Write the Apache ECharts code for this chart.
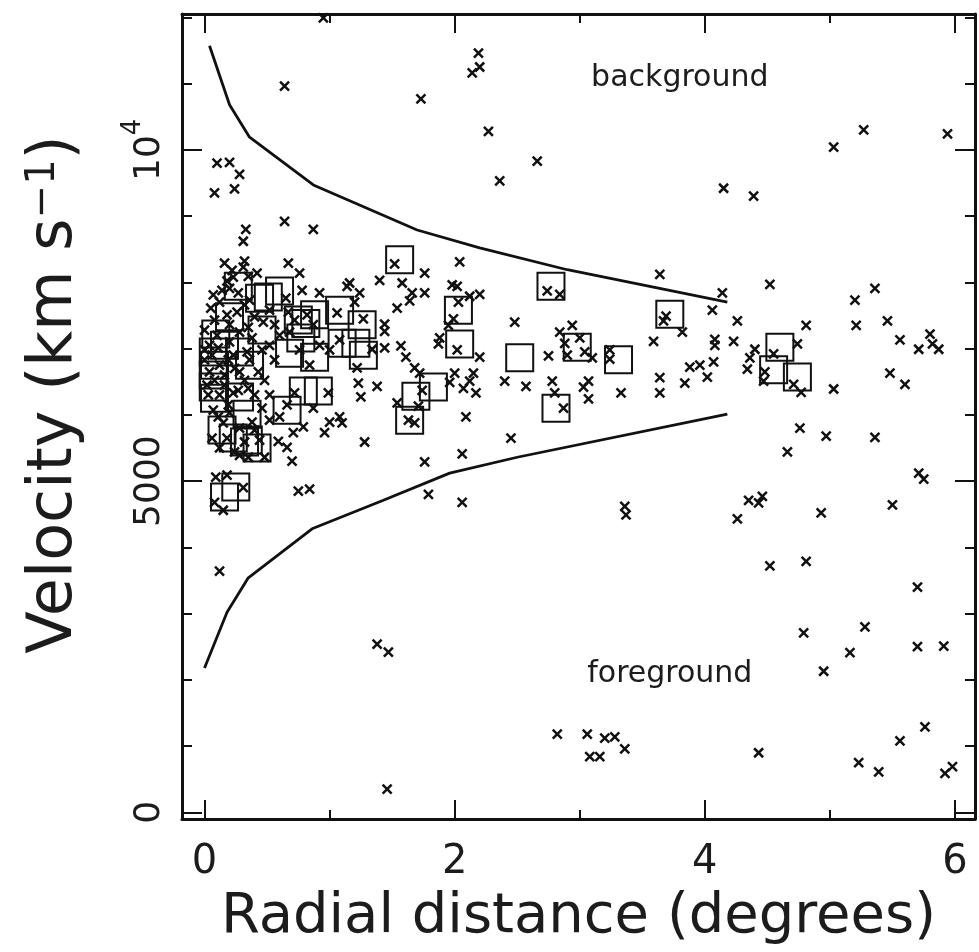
<!DOCTYPE html>
<html>
<head>
<meta charset="utf-8">
<script src="https://cdn.jsdelivr.net/npm/echarts@6/dist/echarts.min.js"></script>
<style>
  html, body { margin: 0; padding: 0; background: #ffffff; }
  #chart { width: 979px; height: 952px; }
</style>
</head>
<body>
<div id="chart"></div>
<script>
// ---- data (radial distance in degrees, velocity in km/s) ----
const crosses = [
  [0.95,11990],[0.64,10960],[1.73,10770],[2.19,11460],[2.20,11250],[2.14,11160],
  [0.10,9800],[0.20,9810],[0.28,9630],[0.08,9350],[0.24,9410],[0.64,8920],[0.87,8800],[0.33,8800],[0.31,8620],
  [2.27,10280],[2.66,9830],[2.36,9530],[4.15,9420],[4.39,9300],[5.03,10040],[5.27,10300],[5.94,10240],
  [0.16,8290],[0.32,8320],[0.31,8230],[0.67,8290],[0.76,8140],[0.42,8140],[0.35,8090],[0.23,8080],[0.18,8020],[0.22,8180],
  [1.52,8280],[1.76,8140],[2.04,8310],[1.40,8030],[1.58,7990],[1.16,7990],[1.14,7940],[1.24,7840],[0.78,7880],[0.92,7840],
  [1.66,7840],[1.64,7720],[1.76,7840],[1.54,7610],[1.98,7960],[2.02,7940],[2.20,7820],[2.12,7790],
  [2.74,7870],[2.84,7820],[3.64,8120],[4.52,7970],[4.14,7840],[5.36,7910],[5.20,7730],[5.21,7350],[5.46,7420],[5.56,7130],
  [5.80,7220],[5.71,6990],[5.82,7070],[5.87,6990],[5.48,6630],[5.60,6460],[5.03,6390],
  [4.81,7350],[4.74,7070],[4.06,7580],[4.26,7420],[4.23,7110],[4.08,7140],[4.08,7050],[4.07,6800],[4.40,6990],[4.36,6860],
  [4.34,6690],[3.88,6720],[3.96,6750],[4.02,6570],[3.84,6480],[3.64,6560],[3.64,6330],[3.59,7110],[3.82,7250],[3.69,7490],[3.67,7420],
  [4.55,6920],[4.48,6650],[4.47,6510],[4.71,6460],[4.77,6340],[4.76,5800],[4.97,5680],[5.36,5660],[4.66,5440],[5.71,5120],
  [5.75,5030],[4.35,4710],[4.43,4670],[4.46,4770],[4.26,4430],[4.93,4520],[5.50,4640],[3.36,4620],[3.37,4490],
  [2.06,4680],[2.45,5650],[2.06,5410],[2.09,5970],[3.33,6330],[3.07,6510],[3.07,6240],[3.03,6420],[2.78,6510],[2.80,6330],
  [2.87,6100],[2.57,6430],[2.40,6510],[2.75,6890],[2.88,7080],[3.00,7160],[2.90,6900],[3.04,6950],[3.10,6860],[2.84,7250],
  [2.94,7350],[3.24,6980],[3.24,6840],[2.48,7400],
  [2.03,7700],[1.99,7450],[1.95,7350],[2.02,6980],[2.20,6870],[1.88,7160],[1.87,7070],[2.00,6630],[2.15,6630],[2.12,6510],
  [2.07,6400],[2.17,6330],[1.96,6490],
  [1.06,7540],[1.27,7450],[1.44,7370],[1.44,7260],[1.20,7700],[1.44,7010],[1.57,7040],[1.61,6870],[1.34,6990],[1.22,6710],
  [1.68,6710],[1.72,6630],[1.63,5920],[1.68,5880],[1.54,6180],[1.71,6130],[1.74,6370],[1.76,5290],[1.79,4800],[1.28,5590],
  [1.23,6480],[1.38,6430],[1.25,6270],[1.08,5970],[1.00,5890],[1.10,5880],[0.96,5730],[0.99,6330],[0.75,4850],[0.84,4880],
  [0.59,5600],[0.66,5510],[0.70,5300],[0.71,5730],[0.79,5820],
  [0.09,5060],[0.18,5090],[0.31,4900],[0.08,4680],[0.15,4560],[0.12,3640],
  [0.07,7810],[0.14,7880],[0.20,7910],[0.27,7840],[0.05,7610],[0.12,7700],[0.18,7510],[0.26,7550],[0.32,7660],[0.40,7480],
  [0.47,7400],[0.35,7320],[0.60,7200],[0.52,7050],[0.38,7160],[0.28,7250],[0.20,7100],[0.10,7200],[0.04,7050],[0.06,6900],
  [0.12,6750],[0.23,6900],[0.34,6950],[0.43,6650],[0.28,6650],[0.04,6650],[0.72,7430],[0.82,7510],[0.87,7360],[0.68,7250],
  [0.67,7550],[0.65,7760],
  [0.07,6070],[0.11,5970],[0.15,5880],[0.20,6030],[0.06,5650],[0.12,5500],[0.18,5650],[0.24,5440],[0.32,5590],[0.35,5360],
  [0.38,5890],[0.48,5360],[0.28,5800],[0.23,6330],[0.27,6370],[0.35,6400],[0.52,6300],[0.60,5970],[0.52,5920],[0.66,6150],
  [0.72,6330],[0.87,6100],
  [0.00,6830],[0.08,6520],[0.16,6450],[0.02,6450],[0.19,6830],[0.36,6830],[0.46,6980],[0.56,6830],[0.48,6520],[0.76,6980],
  [0.92,7050],[0.84,6750],[1.00,6980],[1.08,7130],[0.00,7280],[0.08,7430],
  [0.00,6980],[0.11,7010],[0.16,6600],[0.24,6700],[0.32,6520],[0.03,6300],[0.12,6300],[0.19,6150],[0.40,6300],[0.46,6100],
  [0.40,5770],[0.28,5390],[0.44,5620],[0.36,7730],[0.52,7580],[0.56,7360],[0.20,7360],
  [1.38,2540],[1.47,2420],[1.46,350],[4.52,3720],[4.81,3790],[5.70,3400],[4.79,2710],[5.28,2800],[5.16,2410],[4.95,2130],
  [5.70,2500],[5.91,2510],[2.82,1180],[3.06,1180],[3.20,1120],[3.28,1140],[3.08,840],[3.16,840],[3.36,960],[4.43,900],
  [5.23,750],[5.39,610],[5.56,1080],[5.76,1290],[5.92,590],[5.98,690]
];

const boxes = [
  [1.56,8340],[2.77,7940],[3.72,7520],[4.60,7020],[4.55,6680],[4.74,6570],[2.81,6100],[2.52,6860],[2.98,7020],[3.31,6830],
  [2.03,7580],[2.04,7070],[1.08,7580],[1.26,7360],[1.21,7080],[1.27,6900],[1.69,6280],[1.64,5920],[1.83,6420],[0.16,4760],
  [0.25,4910],[0.27,7940],[0.60,7870],[0.51,7780],[0.20,7480],[0.09,7220],[0.07,6950],[0.28,6950],[0.08,6750],[0.75,7430],
  [0.88,7510],[0.77,7160],[0.88,6870],[0.81,7380],[0.79,6360],[0.91,6360],[0.66,6070],[0.28,6270],[0.14,5770],[0.23,5650],
  [0.32,5590],[0.42,5500],[0.07,6420],[0.07,6600],[0.34,6010],[0.35,5620],[1.10,7080],[0.44,7760],[0.68,6930],[0.46,7280],
  [0.16,7050],[0.08,6250],[0.36,6750]
];

const upperCurve = [[0.04,11570],[0.20,10680],[0.36,10190],[0.87,9470],[1.70,8790],[2.20,8520],[2.90,8190],[4.18,7700]];
const lowerCurve = [[0.00,2180],[0.18,3020],[0.35,3540],[0.86,4280],[1.43,4710],[1.96,5120],[2.50,5360],[4.18,6010]];

const xTickLabels = [0, 2, 4, 6];
const xMinorTicks = [1, 3, 5];
const yTickLabels = [0, 5000, 10000];
const yMinorTicks = [1000, 2000, 3000, 4000, 6000, 7000, 8000, 9000, 11000, 12000];

const annotations = [
  { text: 'background', x: 3.80, v: 11080 },
  { text: 'foreground', x: 3.72, v: 2090 }
];

const xTitle = 'Radial distance (degrees)';
const yTitle = 'Velocity (km s{sup|\u22121})';

// ---- styling ----
const INK = '#111111';
const TEXT = '#1c1c1c';
const FONT = 'DejaVu Sans';
const X_MIN = -0.18, X_MAX = 6.16, Y_MIN = -100, Y_MAX = 12050;

function xAx(position, ticks, len, showLine, extra) {
  return Object.assign({
    type: 'value', position: position, min: X_MIN, max: X_MAX,
    axisLine: { show: showLine, onZero: false, lineStyle: { color: INK, width: 3 } },
    axisTick: { show: true, inside: true, length: len, customValues: ticks, lineStyle: { color: INK, width: 2 } },
    axisLabel: { show: false },
    splitLine: { show: false }
  }, extra || {});
}
function yAx(position, ticks, len, showLine, extra) {
  return Object.assign({
    type: 'value', position: position, min: Y_MIN, max: Y_MAX,
    axisLine: { show: showLine, onZero: false, lineStyle: { color: INK, width: 3 } },
    axisTick: { show: true, inside: true, length: len, customValues: ticks, lineStyle: { color: INK, width: 2 } },
    axisLabel: { show: false },
    splitLine: { show: false }
  }, extra || {});
}

const chart = echarts.init(document.getElementById('chart'), null, { renderer: 'canvas' });

const option = {
  animation: false,
  backgroundColor: '#ffffff',
  grid: { left: 182, right: 4, top: 14, bottom: 133, containLabel: false },
  xAxis: [
    xAx('bottom', xTickLabels, 19, true, {
      axisLabel: { show: true, customValues: xTickLabels, fontFamily: FONT, fontSize: 40, color: TEXT, margin: 24 },
      name: xTitle, nameLocation: 'middle', nameGap: 70,
      nameTextStyle: { fontFamily: FONT, fontSize: 56, color: TEXT }
    }),
    xAx('bottom', xMinorTicks, 9, false),
    xAx('top', xTickLabels, 19, true),
    xAx('top', xMinorTicks, 9, false)
  ],
  yAxis: [
    yAx('left', yTickLabels, 20, true, {
      axisLabel: {
        show: true, customValues: yTickLabels, rotate: 90, margin: 14,
        fontFamily: FONT, color: TEXT,
        formatter: function (v) { return v === 10000 ? '{n|10}{sup|4}' : '{n|' + v + '}'; },
        rich: {
          n: { fontFamily: FONT, fontSize: 36, lineHeight: 48, verticalAlign: 'bottom', color: TEXT },
          sup: { fontFamily: FONT, fontSize: 26, lineHeight: 26, verticalAlign: 'top', color: TEXT }
        }
      },
      name: yTitle, nameLocation: 'middle', nameRotate: 90, nameGap: 96,
      nameTextStyle: {
        fontFamily: FONT, fontSize: 62, color: TEXT, padding: [0, 0, 0, 44],
        rich: {
          sup: { fontFamily: FONT, fontSize: 40, lineHeight: 40, verticalAlign: 'top', color: TEXT }
        }
      }
    }),
    yAx('left', yMinorTicks, 10, false),
    yAx('right', yTickLabels, 20, true),
    yAx('right', yMinorTicks, 10, false)
  ],
  series: [
    {
      type: 'line', data: upperCurve, showSymbol: false, symbol: 'none', silent: true,
      lineStyle: { color: INK, width: 2.8 }, z: 3
    },
    {
      type: 'line', data: lowerCurve, showSymbol: false, symbol: 'none', silent: true,
      lineStyle: { color: INK, width: 2.8 }, z: 3
    },
    {
      type: 'scatter', data: boxes, symbol: 'rect', symbolSize: 27, silent: true,
      itemStyle: { color: 'rgba(0,0,0,0)', borderColor: INK, borderWidth: 2, opacity: 1 }, z: 4
    },
    {
      type: 'scatter', data: crosses, symbol: 'path://M0,0L10,10M10,0L0,10', symbolSize: 9, silent: true,
      itemStyle: { color: 'rgba(0,0,0,0)', borderColor: INK, borderWidth: 2.5, opacity: 1 }, z: 5
    },
    {
      type: 'scatter', silent: true, symbolSize: 0,
      itemStyle: { opacity: 1 },
      data: annotations.map(function (a) { return { value: [a.x, a.v], name: a.text }; }),
      label: { show: true, position: 'inside', formatter: '{b}', fontFamily: FONT, fontSize: 30, color: TEXT, opacity: 1 },
      z: 6
    }
  ]
};

chart.setOption(option);
</script>
</body>
</html>
